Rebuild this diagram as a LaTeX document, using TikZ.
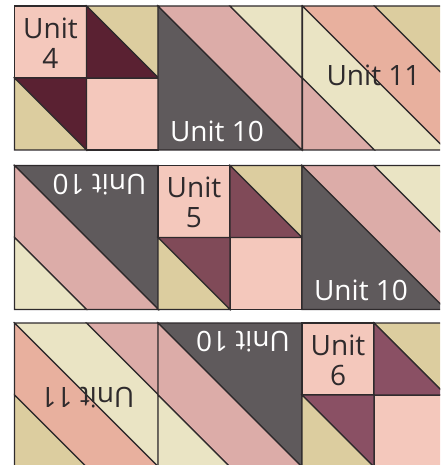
\documentclass[tikz,border=0pt]{standalone}
\usepackage{fontspec}
\setmainfont{Open Sans}
\usepackage{tikz}
\definecolor{seam}{HTML}{2E2A2C}
\definecolor{blush}{HTML}{F4C8BC}
\definecolor{sand}{HTML}{DCCD9F}
\definecolor{cream}{HTML}{EAE4C4}
\definecolor{rose}{HTML}{DCACA8}
\definecolor{salmon}{HTML}{E8B09E}
\definecolor{slate}{HTML}{5F5A5C}
\definecolor{wineA}{HTML}{5A2132}
\definecolor{wineB}{HTML}{804A58}
\definecolor{wineC}{HTML}{8A5064}
% strip of diagonal seams, side 144: #1 x, #2 y, #3 angle, #4 name
\newcommand{\unitten}[4]{
  \begin{scope}[shift={(#1,#2)},rotate around={#3:(72,72)}]
    \filldraw[patch,fill=slate] (0,0) -- (144,144) -- (0,144) -- cycle;
    \filldraw[patch,fill=rose] (0,0) -- (72,0) -- (144,72) -- (144,144) -- cycle;
    \filldraw[patch,fill=cream] (72,0) -- (144,0) -- (144,72) -- cycle;
    \node[unitlbl,text=white,transform shape] (#4) at (59,125) {Unit 10};
  \end{scope}}
\newcommand{\uniteleven}[4]{
  \begin{scope}[shift={(#1,#2)},rotate around={#3:(72,72)}]
    \filldraw[patch,fill=rose] (0,72) -- (72,144) -- (0,144) -- cycle;
    \filldraw[patch,fill=cream] (0,0) -- (144,144) -- (72,144) -- (0,72) -- cycle;
    \filldraw[patch,fill=salmon] (0,0) -- (72,0) -- (144,72) -- (144,144) -- cycle;
    \filldraw[patch,fill=sand] (72,0) -- (144,0) -- (144,72) -- cycle;
    \node[unitlbl,text=seam,transform shape] (#4) at (71,69) {Unit 11};
  \end{scope}}
% four patch: #1 x, #2 y, #3 dark colour, #4 number
\newcommand{\fourpatch}[4]{
  \begin{scope}[shift={(#1,#2)}]
    \filldraw[patch,fill=blush] (0,0) rectangle (72,72);
    \filldraw[patch,fill=blush] (72,72) rectangle (144,144);
    \filldraw[patch,fill=sand] (72,0) -- (144,0) -- (144,72) -- cycle;
    \filldraw[patch,fill=#3] (72,0) -- (144,72) -- (72,72) -- cycle;
    \filldraw[patch,fill=#3] (0,72) -- (72,72) -- (72,144) -- cycle;
    \filldraw[patch,fill=sand] (0,72) -- (72,144) -- (0,144) -- cycle;
    \node[unitlbl,text=seam,align=center] (unit#4) at (36,37) {Unit\\[-2pt]#4};
  \end{scope}}
\begin{document}
\begin{tikzpicture}[x=1pt,y=-1pt,
  patch/.style={draw=seam, line width=1.2pt, line join=miter},
  unitlbl/.style={inner sep=0pt, font=\fontsize{28}{32}\selectfont}]
\useasboundingbox (0,0) rectangle (440,465);
\clip (0,0) rectangle (440,465);
% top row
\fourpatch{14.5}{6}{wineA}{4}
\unitten{158}{6}{0}{tenA}
\uniteleven{302.5}{6}{0}{elevenA}
% middle row
\unitten{14.5}{165.5}{180}{tenB}
\fourpatch{158}{165.5}{wineB}{5}
\unitten{302}{165.5}{0}{tenC}
% bottom row
\uniteleven{14.5}{323}{180}{elevenB}
\unitten{158}{323}{180}{tenD}
\fourpatch{302}{323}{wineC}{6}
\end{tikzpicture}
\end{document}
